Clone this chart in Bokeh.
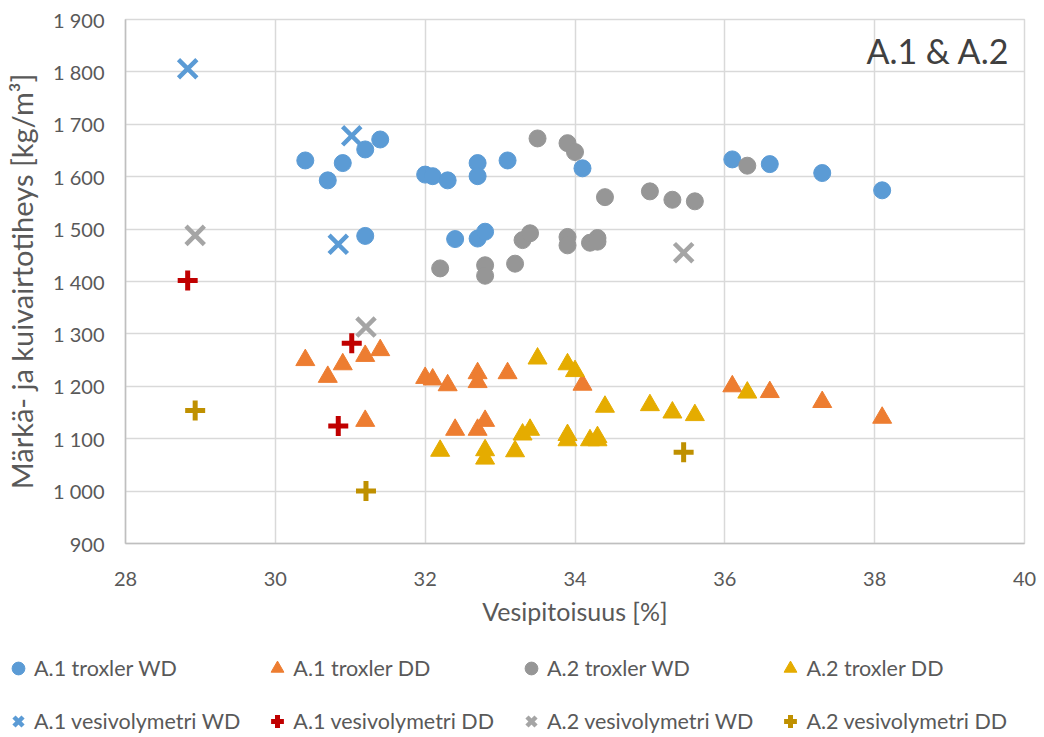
from bokeh.plotting import figure
from bokeh.models import (Legend, LegendItem, Label, CustomJSTickFormatter,
                          FixedTicker, Range1d)
from bokeh.embed import file_html
from bokeh.resources import INLINE

# --- Troxler measurements, site A.1 (moisture %, density kg/m3) ---
a1_trox_x = [30.4, 30.7, 30.9, 31.2, 31.4, 32.0, 32.1, 32.3, 31.2, 32.7,
             32.7, 33.1, 34.1, 36.1, 36.6, 37.3, 38.1, 32.4, 32.7, 32.8]
a1_trox_wd = [1631, 1593, 1626, 1652, 1671, 1604, 1601, 1593, 1487, 1626,
              1601, 1631, 1616, 1633, 1624, 1607, 1574, 1481, 1482, 1495]
a1_trox_dd = [1250, 1218, 1242, 1258, 1269, 1216, 1213, 1202, 1134, 1225,
              1208, 1225, 1203, 1200, 1189, 1170, 1140, 1117, 1117, 1134]

# --- Troxler measurements, site A.2 ---
a2_trox_x = [32.2, 32.8, 32.8, 33.2, 33.3, 33.4, 33.5, 33.9, 34.0, 33.9,
             33.9, 34.2, 34.3, 34.3, 34.4, 35.0, 35.3, 35.6, 36.3]
a2_trox_wd = [1425, 1431, 1411, 1434, 1479, 1492, 1673, 1664, 1647, 1485,
              1469, 1474, 1483, 1476, 1561, 1572, 1556, 1553, 1621]
a2_trox_dd = [1077, 1078, 1062, 1076, 1108, 1117, 1253, 1242, 1229, 1107,
              1097, 1097, 1103, 1097, 1161, 1164, 1150, 1145, 1188]

# --- Water volumeter measurements ---
a1_vv_x = [28.83, 31.02, 30.84]
a1_vv_wd = [1806, 1678, 1471]
a1_vv_dd = [1402, 1282, 1124]
a2_vv_x = [28.93, 31.21, 35.45]
a2_vv_wd = [1488, 1313, 1455]
a2_vv_dd = [1154, 1000, 1074]

x_ticks = [28, 30, 32, 34, 36, 38, 40]
y_ticks = [900, 1000, 1100, 1200, 1300, 1400, 1500, 1600, 1700, 1800, 1900]

series_labels = ["A.1 troxler WD", "A.1 troxler DD", "A.2 troxler WD",
                 "A.2 troxler DD", "A.1 vesivolymetri WD",
                 "A.1 vesivolymetri DD", "A.2 vesivolymetri WD",
                 "A.2 vesivolymetri DD"]

FONT = "Lato"
TXT = "#595959"
GRID = "#D9D9D9"

BLUE = "#5B9BD5"
ORANGE = "#ED7D31"
GRAY = "#969696"
GOLD = "#E5AC00"
RED = "#C00000"
LGRAY = "#A5A5A5"
DGOLD = "#BF9000"

# marker style per series: (marker, size, colour, filled, line width)
styles = [
    ("circle", 17, BLUE, True, 1),
    ("triangle", 19, ORANGE, True, 1),
    ("circle", 17, GRAY, True, 1),
    ("triangle", 19, GOLD, True, 1),
    ("x", 26, BLUE, False, 4.5),
    ("cross", 20, RED, False, 5),
    ("x", 26, LGRAY, False, 4.5),
    ("cross", 20, DGOLD, False, 5),
]

data = [
    (a1_trox_x, a1_trox_wd), (a1_trox_x, a1_trox_dd),
    (a2_trox_x, a2_trox_wd), (a2_trox_x, a2_trox_dd),
    (a1_vv_x, a1_vv_wd), (a1_vv_x, a1_vv_dd),
    (a2_vv_x, a2_vv_wd), (a2_vv_x, a2_vv_dd),
]

# ---------------- main scatter chart ----------------
p = figure(width=1044, height=640, output_backend="svg", toolbar_location=None,
           x_range=Range1d(28, 40), y_range=Range1d(900, 1900),
           min_border_left=124, min_border_right=20, min_border_top=19,
           min_border_bottom=97)
p.outline_line_color = GRID
p.outline_line_width = 1.5

p.xaxis.ticker = FixedTicker(ticks=x_ticks)
p.yaxis.ticker = FixedTicker(ticks=y_ticks)
p.yaxis.formatter = CustomJSTickFormatter(code="""
    if (tick >= 1000) {
        const t = Math.round(tick);
        return Math.floor(t / 1000) + " " + String(t % 1000).padStart(3, "0");
    }
    return String(Math.round(tick));
""")

for ax in (p.xaxis[0], p.yaxis[0]):
    ax.major_tick_line_color = None
    ax.minor_tick_line_color = None
    ax.axis_line_color = "#BFBFBF"
    ax.axis_line_width = 1.5
    ax.major_label_text_font = FONT
    ax.major_label_text_font_size = "20px"
    ax.major_label_text_color = TXT
    ax.axis_label_text_font = FONT
    ax.axis_label_text_color = TXT
    ax.axis_label_text_font_style = "normal"

p.xaxis.axis_label = "Vesipitoisuus [%]"
p.yaxis.axis_label = "Märkä- ja kuivairtotiheys [kg/m³]"
p.xaxis.axis_label_text_font_size = "25px"
p.yaxis.axis_label_text_font_size = "29px"
p.xaxis.major_label_standoff = 22
p.xaxis.axis_label_standoff = 7
p.yaxis.major_label_standoff = 15
p.yaxis.axis_label_standoff = 11

p.xgrid.grid_line_color = GRID
p.ygrid.grid_line_color = GRID
p.xgrid.grid_line_width = 1.5
p.ygrid.grid_line_width = 1.5

for (xs, ys), (mk, sz, col, filled, lw) in zip(data, styles):
    p.scatter(xs, ys, marker=mk, size=sz, line_color=col, line_width=lw,
              fill_color=col if filled else None)

p.add_layout(Label(x=39.8, y=1840, text="A.1 & A.2", text_align="right",
                   text_baseline="middle", text_font=FONT,
                   text_font_size="34px", text_color="#404040"))

# ---------------- legend strip below the chart ----------------
# The strip shares the series data, but its unit ranges keep the points
# themselves out of view, so only the legend swatches appear.
leg_fig = figure(width=1044, height=97, output_backend="svg",
                 toolbar_location=None, x_range=Range1d(0, 1),
                 y_range=Range1d(0, 1), min_border=0)
leg_fig.axis.visible = False
leg_fig.grid.visible = False
leg_fig.outline_line_color = None

leg_renderers = []
for (xs, ys), (mk, sz, col, filled, lw) in zip(data, styles):
    leg_renderers.append(leg_fig.scatter(xs, ys, marker=mk, size=sz,
                                         line_color=col, line_width=lw,
                                         fill_color=col if filled else None))

# legend fills column by column: troxler entry above its volumeter entry
order = [0, 4, 1, 5, 2, 6, 3, 7]
items = [LegendItem(label=series_labels[i], renderers=[leg_renderers[i]])
         for i in order]

legend = Legend(items=items, ncols=4, location=(2, 0),
                label_text_font=FONT, label_text_font_size="21.5px",
                label_text_color=TXT, glyph_width=32, glyph_height=32,
                label_standoff=-3, label_width=200, label_height=32,
                spacing=21, padding=0, margin=0,
                border_line_color=None, background_fill_alpha=0)
leg_fig.add_layout(legend, "center")

open("out.html", "w").write(file_html([p, leg_fig], INLINE))
